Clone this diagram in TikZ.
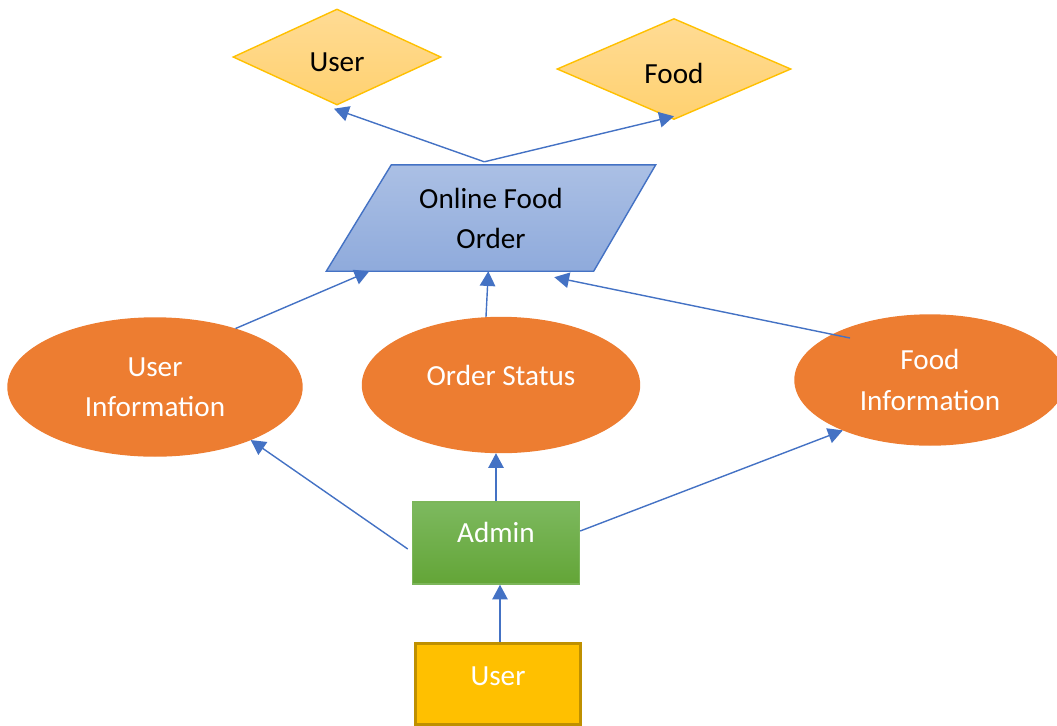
\documentclass[tikz,border=0pt]{standalone}
\usepackage{fontspec}
\setmainfont{Carlito}
\usetikzlibrary{shapes.geometric,arrows.meta,backgrounds}

\definecolor{linkblue}{HTML}{4472C4}
\definecolor{infoorange}{HTML}{ED7D31}
\definecolor{gold}{HTML}{FFC000}
\definecolor{darkgold}{HTML}{BF9000}
\definecolor{palegold}{HTML}{FFDB94}
\definecolor{sandgold}{HTML}{FFD170}
\definecolor{admintop}{HTML}{7DB95F}
\definecolor{adminbot}{HTML}{63A537}
\definecolor{adminline}{HTML}{7CB65A}

\begin{document}
\begin{tikzpicture}[
    x=0.1mm, y=-0.1mm,
    link/.style={draw=linkblue, line width=0.4pt, -{Triangle[length=4.2pt,width=4.4pt]}},
    entity/.style={diamond, draw=gold, line width=0.4pt, top color=palegold, bottom color=sandgold,
      inner sep=0pt, text height=2.9mm, font=\fontsize{8.3}{11.4}\selectfont},
    info/.style={ellipse, draw=infoorange, fill=infoorange, text=white, align=center,
      inner sep=0pt, font=\fontsize{8.3}{11.4}\selectfont},
    actor/.style={rectangle, text=white, inner sep=0pt, minimum width=16.7mm,
      font=\fontsize{8.3}{11.4}\selectfont}
  ]
  \useasboundingbox (0,0) rectangle (1057,726);

  % data stores on top
  \node[entity, minimum width=20.8mm, minimum height=9.6mm] (userd) at (337,57) {User};
  \node[entity, minimum width=23.4mm, minimum height=10.1mm] (foodd) at (674,69) {Food};

  % the system itself, a slanted box behind its text
  \node[minimum width=32.8mm, minimum height=10.5mm, inner sep=0pt, align=center,
    font=\fontsize{8.3}{11.4}\selectfont] (order) at (491,218) {Online Food\\Order};
  \begin{scope}[on background layer]
    \draw[linkblue, line width=0.4pt, top color=linkblue!45, bottom color=linkblue!60]
      ([xshift=6.5mm]order.north west) -- (order.north east)
      -- ([xshift=-6.2mm]order.south east) -- (order.south west) -- cycle;
  \end{scope}

  % processes
  \node[info, minimum width=29.4mm, minimum height=13.8mm] (userinfo) at (155,387) {User\\Information};
  \node[info, minimum width=27.7mm, minimum height=13.5mm, text depth=2mm] (status) at (501,385) {Order Status};
  \node[info, minimum width=27mm, minimum height=13mm] (foodinfo) at (930,380) {Food\\Information};

  % actors
  \node[actor, minimum height=8.2mm, text depth=2.2mm, draw=adminline, line width=0.4pt,
    top color=admintop, bottom color=adminbot] (admin) at (496,543) {Admin};
  \node[actor, minimum height=8.1mm, minimum width=16.5mm, text depth=1.5mm, fill=gold,
    draw=darkgold, line width=0.8pt] (user) at (498,684) {User};

  \coordinate (top) at ([xshift=15.8mm,yshift=0.3mm]order.north west);

  \draw[link] (user.north -| 500,0) -- (admin.south -| 500,0);
  \draw[link] ([xshift=-0.4mm,yshift=-0.6mm]admin.west) -- (userinfo.-29);
  \draw[link] (admin.north) -- (status.south -| admin.north);
  \draw[link] ([yshift=1.2mm]admin.east) -- (foodinfo.-150);
  \draw[link] (userinfo.36) -- ([xshift=4.3mm]order.south west);
  \draw[link] ([xshift=-1.5mm]status.north) -- ([xshift=16.2mm]order.south west);
  \draw[link] ([xshift=-8mm,yshift=4.2mm]foodinfo.center) -- ([xshift=22.8mm,yshift=-0.6mm]order.south west);
  \draw[link] (top) -- ([xshift=-0.3mm,yshift=-0.3mm]userd.south);
  \draw[link] (top) -- ([yshift=0.4mm]foodd.south);
\end{tikzpicture}
\end{document}
